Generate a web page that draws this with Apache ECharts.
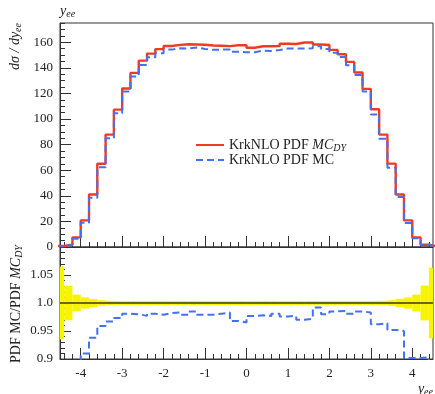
<!DOCTYPE html>
<html><head><meta charset="utf-8">
<script src="https://cdn.jsdelivr.net/npm/echarts@6/dist/echarts.min.js"></script>
<style>html,body{margin:0;padding:0;background:#fff}#c{width:435px;height:394px}</style>
</head><body><div id="c"></div>
<script>
// ---- data (bins of width 0.2 starting at -4.6) ----
const BIN_START = -4.6;
const BIN_WIDTH = 0.2;
const mcDY = [0.8, 1.8, 7.5, 20.8, 41.0, 65.0, 87.8, 107.3, 123.8, 136.0,
  145.6, 151.1, 154.6, 157.0, 157.9, 158.4, 158.2, 158.0, 157.4, 157.2,
  156.9, 157.6, 157.6, 155.7, 156.8, 156.8, 156.9, 158.8, 158.6, 159.8,
  159.8, 158.2, 157.8, 154.0, 150.6, 144.6, 136.3, 123.5, 107.6, 87.8,
  65.1, 41.0, 20.8, 7.5, 1.8, 0.5];
const mcPDF = [0.7, 1.5, 6.5, 18.9, 38.5, 62.3, 84.9, 104.4, 121.4, 133.3,
  142.2, 148.2, 151.4, 154.2, 155.2, 155.1, 155.8, 154.7, 154.1, 154.2,
  154.2, 152.6, 152.1, 152.1, 153.4, 153.2, 153.9, 155.0, 155.0, 155.0,
  155.3, 156.9, 154.6, 151.7, 148.5, 141.9, 134.3, 121.4, 103.5, 84.6,
  62.0, 39.0, 18.8, 6.8, 1.6, 0.45];
const ratio = [0.86, 0.86, 0.87, 0.910, 0.938, 0.959, 0.967, 0.973, 0.981, 0.980,
  0.977, 0.981, 0.979, 0.982, 0.983, 0.979, 0.985, 0.979, 0.979, 0.981,
  0.983, 0.968, 0.965, 0.977, 0.978, 0.977, 0.981, 0.976, 0.977, 0.970,
  0.972, 0.992, 0.980, 0.985, 0.986, 0.981, 0.985, 0.983, 0.962, 0.964,
  0.952, 0.950, 0.902, 0.902, 0.903, 0.89];
const bandErr = [0.065, 0.031, 0.015, 0.010, 0.007, 0.005, 0.004, 0.0035, 0.0035, 0.0035,
  0.0035, 0.0035, 0.0035, 0.0035, 0.0035, 0.0035, 0.0035, 0.0035, 0.0035, 0.0035,
  0.0035, 0.0035, 0.0035, 0.0035, 0.0035, 0.0035, 0.0035, 0.0035, 0.0035, 0.0035,
  0.0035, 0.0035, 0.0035, 0.0035, 0.0035, 0.0035, 0.0035, 0.0035, 0.0035, 0.004,
  0.005, 0.0075, 0.010, 0.015, 0.031, 0.063];
const xMajorTicks = [-4, -3, -2, -1, 0, 1, 2, 3, 4];
const xMinorTicks = [-4.4, -4.2, -3.8, -3.6, -3.4, -3.2, -2.8, -2.6, -2.4, -2.2,
  -1.8, -1.6, -1.4, -1.2, -0.8, -0.6, -0.4, -0.2, 0.2, 0.4, 0.6, 0.8,
  1.2, 1.4, 1.6, 1.8, 2.2, 2.4, 2.6, 2.8, 3.2, 3.4, 3.6, 3.8, 4.2, 4.4];
const yTopTicks = [0, 20, 40, 60, 80, 100, 120, 140, 160];
const yBotLabels = [0.9, 0.95, 1.0, 1.05];

// ---- helpers ----
const SERIF = "'Liberation Serif', 'DejaVu Serif', serif";
const TXT = '#222';
const AX = '#333';
const edges = [];
for (let i = 0; i <= mcDY.length; i++) edges.push(+(BIN_START + i * BIN_WIDTH).toFixed(2));
function stepData(vals) {
  const d = vals.map((v, i) => [edges[i], v]);
  d.push([edges[vals.length], vals[vals.length - 1]]);
  return d;
}
const bandData = bandErr.map((e, i) => [edges[i], edges[i + 1], 1 - e, 1 + e]);

function majorX(gi, labels) {
  return {
    gridIndex: gi, type: 'value', min: -4.5, max: 4.5, position: 'bottom',
    axisLine: { show: true, onZero: false, lineStyle: { color: AX, width: 1 } },
    axisTick: { show: true, inside: true, length: 11, customValues: xMajorTicks, lineStyle: { color: AX } },
    axisLabel: labels ? { show: true, customValues: xMajorTicks, fontFamily: SERIF, fontSize: 13, color: TXT, margin: 8 } : { show: false },
    splitLine: { show: false }
  };
}
function minorX(gi) {
  return {
    gridIndex: gi, type: 'value', min: -4.5, max: 4.5, position: 'bottom',
    axisLine: { show: false, onZero: false },
    axisTick: { show: true, inside: true, length: 5, customValues: xMinorTicks, lineStyle: { color: AX } },
    axisLabel: { show: false }, splitLine: { show: false }
  };
}

const chart = echarts.init(document.getElementById('c'), null, { renderer: 'canvas' });
chart.setOption({
  animation: false,
  backgroundColor: '#fff',
  grid: [
    { left: 60, right: 2, top: 23, height: 224, show: true, borderColor: AX, borderWidth: 1, backgroundColor: 'transparent' },
    { left: 60, right: 2, top: 247, height: 112, show: true, borderColor: AX, borderWidth: 1, backgroundColor: 'transparent' }
  ],
  xAxis: [majorX(0, false), minorX(0), majorX(1, true), minorX(1)],
  yAxis: [
    {
      gridIndex: 0, type: 'value', min: 0, max: 175, position: 'left',
      axisLine: { show: true, onZero: false, lineStyle: { color: AX } },
      axisTick: { show: true, inside: true, length: 11, customValues: yTopTicks, lineStyle: { color: AX } },
      axisLabel: { customValues: yTopTicks, fontFamily: SERIF, fontSize: 13, color: TXT, margin: 7 },
      splitLine: { show: false }
    },
    {
      gridIndex: 0, type: 'value', min: 0, max: 175, interval: 5, position: 'left',
      axisLine: { show: false, onZero: false },
      axisTick: { show: true, inside: true, length: 5, lineStyle: { color: AX } },
      axisLabel: { show: false }, splitLine: { show: false }
    },
    {
      gridIndex: 1, type: 'value', min: 0.9, max: 1.1, interval: 0.05, position: 'left',
      axisLine: { show: true, onZero: false, lineStyle: { color: AX } },
      axisTick: { show: true, inside: true, length: 11, lineStyle: { color: AX } },
      minorTick: { show: true, splitNumber: 5, length: 5, lineStyle: { color: AX } },
      axisLabel: {
        customValues: yBotLabels, fontFamily: SERIF, fontSize: 13, color: TXT, margin: 7,
        formatter: v => { let s = String(Math.round(v * 100) / 100); if (s.indexOf('.') < 0) s += '.0'; return s; }
      },
      splitLine: { show: false }
    }
  ],
  legend: {
    data: ['dy', 'mc'], orient: 'vertical', left: 190, top: 133,
    itemWidth: 28, itemHeight: 12, itemGap: 0,
    itemStyle: { opacity: 0 },
    formatter: n => n === 'dy' ? 'KrkNLO PDF {it|MC}{sub|DY}' : 'KrkNLO PDF MC',
    textStyle: {
      fontFamily: SERIF, fontSize: 14, color: TXT, padding: [0, 0, 0, 0],
      rich: {
        it: { fontFamily: SERIF, fontSize: 14, fontStyle: 'italic', color: TXT },
        sub: { fontFamily: SERIF, fontSize: 10, fontStyle: 'italic', color: TXT, verticalAlign: 'bottom', padding: [6, 0, 0, 0] }
      }
    }
  },
  graphic: [
    { type: 'text', x: 60, y: 3, style: { text: '{i|y}{s|ee}', rich: {
        i: { fontFamily: SERIF, fontSize: 14, fontStyle: 'italic', fill: TXT },
        s: { fontFamily: SERIF, fontSize: 10, fontStyle: 'italic', fill: TXT, verticalAlign: 'bottom', padding: [6, 0, 0, 0] } } } },
    { type: 'text', x: 15, y: 23, rotation: Math.PI / 2, style: { text: '{i|dσ / dy}{s|ee}', align: 'right', verticalAlign: 'middle', rich: {
        i: { fontFamily: SERIF, fontSize: 14, fontStyle: 'italic', fill: TXT },
        s: { fontFamily: SERIF, fontSize: 10, fontStyle: 'italic', fill: TXT, verticalAlign: 'bottom', padding: [6, 0, 0, 0] } } } },
    { type: 'text', x: 16, y: 304, rotation: Math.PI / 2, style: { text: '{n|PDF MC/PDF }{i|MC}{s|DY}', align: 'center', verticalAlign: 'middle', rich: {
        n: { fontFamily: SERIF, fontSize: 14, fill: TXT },
        i: { fontFamily: SERIF, fontSize: 14, fontStyle: 'italic', fill: TXT },
        s: { fontFamily: SERIF, fontSize: 10, fontStyle: 'italic', fill: TXT, verticalAlign: 'bottom', padding: [6, 0, 0, 0] } } } },
    { type: 'text', x: 433, y: 381, style: { text: '{i|y}{s|ee}', align: 'right', rich: {
        i: { fontFamily: SERIF, fontSize: 14, fontStyle: 'italic', fill: TXT },
        s: { fontFamily: SERIF, fontSize: 10, fontStyle: 'italic', fill: TXT, verticalAlign: 'bottom', padding: [6, 0, 0, 0] } } } }
  ],
  series: [
    {
      name: 'dy', type: 'line', xAxisIndex: 0, yAxisIndex: 0, step: 'end', symbol: 'none', clip: true,
      data: stepData(mcDY), lineStyle: { color: '#ee3b22', width: 2.4 }, itemStyle: { color: '#ee3b22' }, z: 3
    },
    {
      name: 'mc', type: 'line', xAxisIndex: 0, yAxisIndex: 0, step: 'end', symbol: 'none', clip: true,
      data: stepData(mcPDF), lineStyle: { color: '#4570f2', width: 2, type: [7, 4] }, itemStyle: { color: '#4570f2' }, z: 4
    },
    {
      name: 'band', type: 'custom', xAxisIndex: 2, yAxisIndex: 2, clip: true,
      encode: { x: [0, 1], y: [2, 3] },
      data: bandData,
      renderItem: (params, api) => {
        const p0 = api.coord([api.value(0), api.value(3)]);
        const p1 = api.coord([api.value(1), api.value(2)]);
        const cs = params.coordSys;
        const shape = echarts.graphic.clipRectByRect(
          { x: p0[0], y: p0[1], width: p1[0] - p0[0], height: p1[1] - p0[1] },
          { x: cs.x, y: cs.y, width: cs.width, height: cs.height });
        return shape && { type: 'rect', shape: shape, style: { fill: '#f8f400' } };
      },
      markLine: {
        silent: true, symbol: 'none', label: { show: false },
        lineStyle: { color: '#3a3a10', width: 1.6, type: 'solid' },
        data: [{ yAxis: 1.0 }]
      },
      z: 2
    },
    {
      name: 'ratio', type: 'line', xAxisIndex: 2, yAxisIndex: 2, step: 'end', symbol: 'none', clip: true,
      data: stepData(ratio), lineStyle: { color: '#4570f2', width: 2, type: [7, 4] }, z: 4
    }
  ]
});
</script>
</body></html>
